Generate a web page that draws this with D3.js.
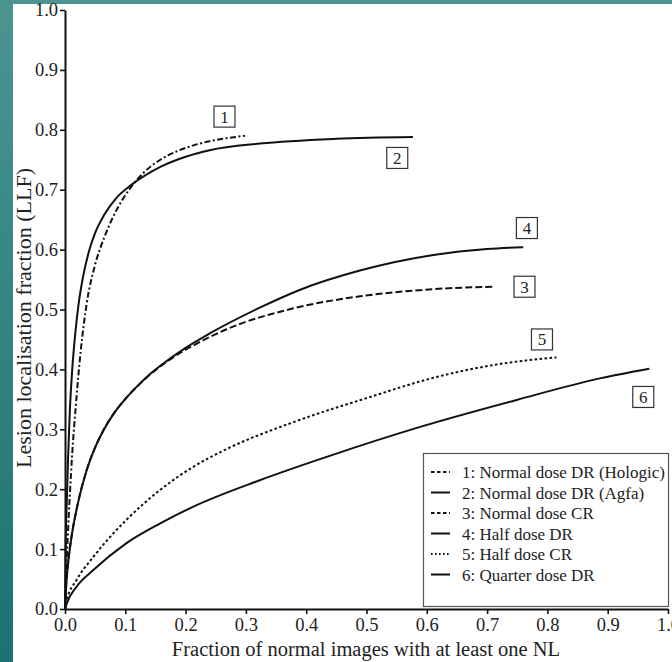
<!DOCTYPE html>
<html>
<head>
<meta charset="utf-8">
<script src="https://cdn.jsdelivr.net/npm/d3@7.9.0/dist/d3.min.js"></script>
<style>
  body { margin: 0; }
  svg { display: block; font-family: "Liberation Serif", "DejaVu Serif", serif; }
</style>
</head>
<body>
<svg id="chart" width="672" height="662"></svg>
<script>
// series
const seriesNames = [
  '1: Normal dose DR (Hologic)',
  '2: Normal dose DR (Agfa)',
  '3: Normal dose CR',
  '4: Half dose DR',
  '5: Half dose CR',
  '6: Quarter dose DR'
];

const hologicX = [0, 0.002, 0.005, 0.008, 0.012, 0.018, 0.026, 0.036, 0.050, 0.065, 0.080, 0.095, 0.110, 0.130, 0.158, 0.190, 0.213, 0.240, 0.268, 0.2985];
const hologicY = [0, 0.06, 0.13, 0.19, 0.26, 0.34, 0.43, 0.51, 0.575, 0.62, 0.655, 0.683, 0.705, 0.728, 0.750, 0.766, 0.774, 0.781, 0.786, 0.790];

const agfaX = [0, 0.001, 0.003, 0.005, 0.008, 0.012, 0.017, 0.022, 0.030, 0.040, 0.050, 0.065, 0.085, 0.110, 0.135, 0.158, 0.200, 0.240, 0.323, 0.45, 0.577];
const agfaY = [0, 0.10, 0.18, 0.25, 0.33, 0.40, 0.46, 0.505, 0.555, 0.598, 0.628, 0.658, 0.686, 0.708, 0.725, 0.738, 0.755, 0.766, 0.777, 0.785, 0.788];

const normalCrX = [0, 0.002, 0.005, 0.010, 0.020, 0.036, 0.050, 0.0636, 0.080, 0.0995, 0.120, 0.135, 0.158, 0.190, 0.213, 0.268, 0.379, 0.489, 0.611, 0.709];
const normalCrY = [0, 0.04, 0.075, 0.115, 0.17, 0.232, 0.27, 0.298, 0.325, 0.350, 0.372, 0.386, 0.405, 0.427, 0.440, 0.467, 0.502, 0.522, 0.534, 0.538];

const halfDrX = [0, 0.002, 0.005, 0.010, 0.020, 0.036, 0.050, 0.0636, 0.080, 0.0995, 0.120, 0.135, 0.158, 0.200, 0.240, 0.323, 0.390, 0.489, 0.611, 0.700, 0.760];
const halfDrY = [0, 0.04, 0.075, 0.115, 0.17, 0.232, 0.27, 0.298, 0.325, 0.350, 0.372, 0.387, 0.406, 0.436, 0.460, 0.503, 0.533, 0.565, 0.591, 0.601, 0.604];

const halfCrX = [0, 0.003, 0.019, 0.047, 0.102, 0.158, 0.213, 0.268, 0.379, 0.500, 0.611, 0.721, 0.815];
const halfCrY = [0, 0.015, 0.048, 0.087, 0.149, 0.199, 0.2375, 0.267, 0.312, 0.352, 0.386, 0.409, 0.420];

const quarterDrX = [0, 0.003, 0.019, 0.047, 0.102, 0.158, 0.213, 0.323, 0.434, 0.589, 0.749, 0.887, 0.969];
const quarterDrY = [0, 0.0095, 0.037, 0.065, 0.110, 0.143, 0.171, 0.215, 0.254, 0.304, 0.349, 0.385, 0.401];

// numbered boxes next to each curve (data units)
const boxLabels = ['1', '2', '3', '4', '5', '6'];
const boxX = [0.2645, 0.551, 0.762, 0.766, 0.791, 0.959];
const boxY = [0.822, 0.753, 0.538, 0.636, 0.450, 0.354];

const tickValues = [0, 0.1, 0.2, 0.3, 0.4, 0.5, 0.6, 0.7, 0.8, 0.9, 1.0];

const xs = [hologicX, agfaX, normalCrX, halfDrX, halfCrX, quarterDrX];
const ys = [hologicY, agfaY, normalCrY, halfDrY, halfCrY, quarterDrY];
const dashes = ['6,2.5,2,2.5', null, '7,3', null, '2.6,2.4', null];

const svg = d3.select('#chart');

// teal slide background
const defs = svg.append('defs');
const grad = defs.append('linearGradient').attr('id', 'teal')
  .attr('x1', 0).attr('y1', 0).attr('x2', 0).attr('y2', 1);
grad.append('stop').attr('offset', '0%').attr('stop-color', '#4b9591');
grad.append('stop').attr('offset', '100%').attr('stop-color', '#1b7271');
svg.append('rect').attr('width', 672).attr('height', 662).attr('fill', 'url(#teal)');
svg.append('rect').attr('x', 13).attr('y', 4).attr('width', 672 - 13).attr('height', 662 - 4).attr('fill', '#fff');

const x = d3.scaleLinear().domain([0, 1]).range([65, 668]);
const y = d3.scaleLinear().domain([0, 1]).range([609, 10]);

// axes
const xAxis = svg.append('g').attr('transform', `translate(0,${y(0)})`)
  .call(d3.axisBottom(x).tickValues(tickValues).tickFormat(d3.format('.1f')).tickSize(5).tickSizeOuter(0));
const yAxis = svg.append('g').attr('transform', `translate(${x(0)},0)`)
  .call(d3.axisLeft(y).tickValues(tickValues).tickFormat(d3.format('.1f')).tickSize(5).tickSizeOuter(0));

[xAxis, yAxis].forEach(g => {
  g.attr('font-family', null);
  g.select('.domain').attr('stroke', '#111').attr('stroke-width', 2);
  g.selectAll('.tick line').attr('stroke', '#111').attr('stroke-width', 1.6);
  g.selectAll('.tick text').attr('fill', '#222').style('font-size', '18.5px')
    .style('font-family', '"Liberation Serif", serif');
});
xAxis.selectAll('.tick text').attr('y', 7).attr('dy', '0.8em');
yAxis.selectAll('.tick text').attr('x', -7);

// curves
const line = d3.line()
  .x(d => x(d[0]))
  .y(d => y(d[1]))
  .curve(d3.curveMonotoneX);

xs.forEach((xv, i) => {
  const pts = xv.map((v, j) => [v, ys[i][j]]);
  svg.append('path')
    .attr('d', line(pts))
    .attr('fill', 'none')
    .attr('stroke', '#111')
    .attr('stroke-width', 2)
    .attr('stroke-dasharray', dashes[i]);
});

// numbered boxes
boxLabels.forEach((t, i) => {
  const cx = x(boxX[i]), cy = y(boxY[i]);
  svg.append('rect')
    .attr('x', cx - 10.5).attr('y', cy - 10.5)
    .attr('width', 21).attr('height', 21)
    .attr('fill', '#fff').attr('stroke', '#333').attr('stroke-width', 1.2);
  svg.append('text')
    .attr('x', cx).attr('y', cy + 6)
    .attr('text-anchor', 'middle')
    .attr('fill', '#222')
    .style('font-size', '17px')
    .text(t);
});

// legend
const legend = svg.append('g');
legend.append('rect')
  .attr('x', 423.5).attr('y', 453.5).attr('width', 245).attr('height', 153)
  .attr('fill', '#fff').attr('stroke', '#555').attr('stroke-width', 1.2);

seriesNames.forEach((name, i) => {
  const ry = 472 + i * 20.5;
  legend.append('line')
    .attr('x1', 431).attr('x2', 450).attr('y1', ry).attr('y2', ry)
    .attr('stroke', '#111').attr('stroke-width', 2)
    .attr('stroke-dasharray', dashes[i] ? (i === 4 ? '1.6,2.4' : '3.5,2.5') : null);
  legend.append('text')
    .attr('x', 462).attr('y', ry + 6)
    .attr('fill', '#222')
    .style('font-size', '17px')
    .text(name);
});

// axis titles
svg.append('text')
  .attr('x', 366).attr('y', 656)
  .attr('text-anchor', 'middle')
  .attr('fill', '#222')
  .style('font-size', '20.5px')
  .text('Fraction of normal images with at least one NL');

svg.append('text')
  .attr('transform', 'translate(31,318) rotate(-90)')
  .attr('text-anchor', 'middle')
  .attr('fill', '#222')
  .style('font-size', '22px')
  .text('Lesion localisation fraction (LLF)');
</script>
</body>
</html>
